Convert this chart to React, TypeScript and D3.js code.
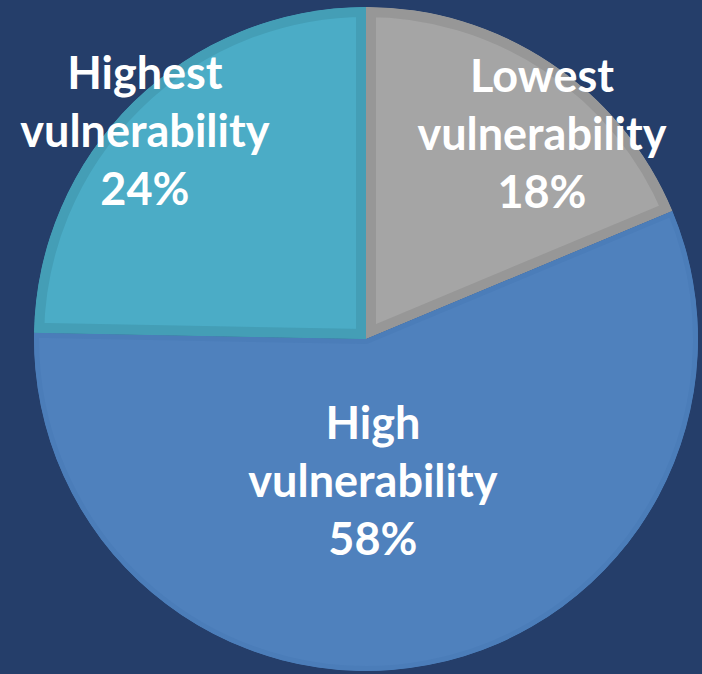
import React from "react";
import * as d3 from "d3";

const categories = ["Lowest vulnerability", "High vulnerability", "Highest vulnerability"];
const titleLines = [["Lowest", "vulnerability"], ["High", "vulnerability"], ["Highest", "vulnerability"]];
const percentLabels = ["18%", "58%", "24%"];
// slice sizes
const values = [18.7, 56.6, 24.7];
const fillColors = ["#A5A5A5", "#4F81BD", "#4BACC6"];
const edgeColors = ["#979797", "#4B7DB9", "#449EB6"];
// label anchor (polar, degrees clockwise from 12 o'clock, distance in px) of middle line baseline
const labelAngles = [43, 177.5, 311];
const labelDists = [258, 158, 293];

const W = 702;
const H = 674;
const CX = 366;
const CY = 339;
const R = 332;
const BORDER = 10;
const LINE = 58;

export default function App() {
  const pie = d3.pie<number>().sort(null).startAngle(0).endAngle(2 * Math.PI);
  const arcs = pie(values);
  const arc = d3.arc<d3.PieArcDatum<number>>().innerRadius(0).outerRadius(R);

  return (
    <svg
      width={W}
      height={H}
      style={{ position: "absolute", left: 0, top: 0, display: "block" }}
    >
      <rect x={0} y={0} width={W} height={H} fill="#253E6A" />
      <g transform={`translate(${CX},${CY})`}>
        <defs>
          {arcs.map((a, i) => (
            <clipPath id={`clip${i}`} key={i}>
              <path d={arc(a) || ""} />
            </clipPath>
          ))}
        </defs>
        {arcs.map((a, i) => (
          <g key={categories[i]} clipPath={`url(#clip${i})`}>
            <path
              d={arc(a) || ""}
              fill={fillColors[i]}
              stroke={edgeColors[i]}
              strokeWidth={i === 1 ? BORDER : BORDER * 2}
              strokeLinejoin="miter"
            />
          </g>
        ))}
      </g>
      {arcs.map((a, i) => {
        const ang = (labelAngles[i] * Math.PI) / 180;
        const x = CX + labelDists[i] * Math.sin(ang);
        const y = CY - labelDists[i] * Math.cos(ang);
        const lines = [...titleLines[i], percentLabels[i]];
        return (
          <text
            key={`t${i}`}
            x={x}
            y={y}
            textAnchor="middle"
            fill="#FFFFFF"
            fontFamily="Lato, 'Open Sans', sans-serif"
            fontWeight={700}
            fontSize={45}
          >
            {lines.map((l, j) => (
              <tspan key={j} x={x} y={y + (j - 1) * LINE}>
                {l}
              </tspan>
            ))}
          </text>
        );
      })}
    </svg>
  );
}
